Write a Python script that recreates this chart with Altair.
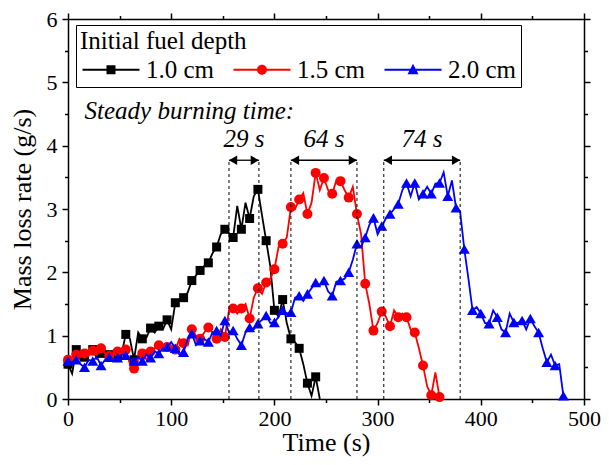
import altair as alt
import pandas as pd

# ---------------- data ----------------
series_names = ["1.0 cm", "1.5 cm", "2.0 cm"]
series_colors = ["#000000", "#ff0000", "#0000ff"]
marker_shapes = ["square", "circle", "triangle-up"]
marker_sizes = [81, 100, 121]

time_10 = list(range(0, 245, 4))
mlr_10 = [0.55, 0.40, 0.78, 0.62, 0.66, 0.70, 0.78, 0.64, 0.72, 0.66,
          0.70, 0.64, 0.68, 0.72, 1.02, 0.95, 0.62, 1.05, 0.95, 0.97,
          1.12, 1.05, 1.15, 1.10, 1.25, 1.10, 1.52, 1.58, 1.60, 1.68,
          1.87, 1.95, 2.03, 2.10, 2.15, 2.30, 2.40, 2.60, 2.68, 2.62,
          2.55, 3.05, 2.68, 3.10, 2.85, 3.20, 3.31, 2.90, 2.50, 2.10,
          1.40, 1.30, 1.57, 1.20, 0.95, 0.90, 0.80, 0.55, 0.25, 0.05,
          0.35, 0.00]

time_15 = list(range(0, 365, 4))
mlr_15 = [0.62, 0.58, 0.70, 0.66, 0.72, 0.68, 0.76, 0.70, 0.80, 0.72,
          0.68, 0.72, 0.75, 0.70, 0.78, 0.55, 0.48, 0.65, 0.72, 0.62,
          0.75, 0.80, 0.85, 0.78, 0.82, 0.80, 0.78, 0.95, 0.88, 0.85,
          1.10, 1.00, 0.95, 1.05, 1.13, 1.05, 0.95, 1.10, 0.98, 1.40,
          1.43, 1.35, 1.43, 1.50, 1.27, 1.60, 1.75, 1.66, 1.84, 1.90,
          2.05, 2.40, 2.45, 2.55, 3.03, 3.00, 3.15, 3.25, 2.92, 3.10,
          3.57, 3.30, 3.49, 3.30, 3.24, 3.45, 3.44, 3.30, 3.18, 3.35,
          2.92, 2.60, 1.82, 1.50, 1.08, 1.20, 1.38, 1.30, 1.15, 1.40,
          1.29, 1.35, 1.29, 1.10, 1.05, 0.80, 0.53, 0.20, 0.06, 0.42,
          0.03, 0.00]

time_20 = list(range(0, 481, 4))
mlr_20 = [0.60, 0.58, 0.62, 0.55, 0.50, 0.62, 0.60, 0.66, 0.53, 0.62,
          0.66, 0.60, 0.65, 0.70, 0.69, 0.62, 0.60, 0.66, 0.60, 0.70,
          0.65, 0.75, 0.72, 0.80, 0.82, 0.90, 0.80, 0.70, 0.74, 0.95,
          1.03, 0.85, 0.92, 0.95, 0.90, 1.05, 1.08, 1.00, 1.24, 1.05,
          1.08, 0.95, 0.85, 1.05, 1.13, 1.10, 1.19, 1.25, 1.32, 1.20,
          1.21, 1.30, 1.40, 1.35, 1.37, 1.60, 1.63, 1.55, 1.66, 1.75,
          1.84, 1.80, 1.87, 1.70, 1.63, 1.85, 1.87, 1.90, 2.00, 2.20,
          2.45, 2.40, 2.55, 2.75, 2.86, 2.60, 2.73, 2.85, 2.92, 3.00,
          3.08, 3.30, 3.41, 3.20, 3.41, 3.15, 3.24, 3.35, 3.24, 3.40,
          3.41, 3.58, 3.20, 3.45, 3.02, 2.95, 2.37, 1.90, 1.40, 1.45,
          1.35, 1.20, 1.19, 1.40, 1.29, 1.10, 1.05, 1.35, 1.21, 1.20,
          1.24, 1.10, 1.27, 1.15, 1.05, 0.80, 0.58, 0.70, 0.53, 0.55,
          0.05]

# steady burning annotation
interval_start = [156, 216, 306]
interval_end = [185, 280, 380]
interval_label = ["29 s", "64 s", "74 s"]
arrow_level = 3.77
label_level = 4.10
steady_text = ["Steady burning time:"]
steady_x = [16]
steady_y = [4.55]

# axis ticks
x_ticks = [0, 50, 100, 150, 200, 250, 300, 350, 400, 450, 500]
y_ticks = [0, 0.5, 1, 1.5, 2, 2.5, 3, 3.5, 4, 4.5, 5, 5.5, 6]

# legend symbols: line segment + marker (custom paths, 10 px per unit)
legend_paths = [
    "M-1,-0.1H4.7V0.1H-1Z M1.4,-0.45H2.3V0.45H1.4Z",
    "M-1,-0.1H4.7V0.1H-1Z M2.35,0A0.5,0.5 0 1,1 1.35,0A0.5,0.5 0 1,1 2.35,0Z",
    "M-1,-0.1H4.7V0.1H-1Z M1.85,-0.6L2.4,0.45L1.3,0.45Z",
]

# ---------------- tables ----------------
rows = []
for name, ts, vs in zip(series_names, [time_10, time_15, time_20], [mlr_10, mlr_15, mlr_20]):
    for i, (t, v) in enumerate(zip(ts, vs)):
        rows.append({"t": t, "v": v, "series": name, "marker": i % 2 == 0})
df = pd.DataFrame(rows)

ann = pd.DataFrame({
    "start": interval_start,
    "end": interval_end,
    "label": interval_label,
    "mid": [(s + e) / 2 for s, e in zip(interval_start, interval_end)],
    "ya": [arrow_level] * 3,
    "yl": [label_level] * 3,
})
bounds = pd.DataFrame({
    "xb": interval_start + interval_end,
    "y0": [0.0] * 6,
    "y1": [arrow_level] * 6,
})
steady = pd.DataFrame({"x": steady_x, "y": steady_y, "text": steady_text})

FONT = "Liberation Serif"
xscale = alt.Scale(domain=[0, 500], nice=False, zero=False)
yscale = alt.Scale(domain=[0, 6], nice=False, zero=False)
cscale = alt.Scale(domain=series_names, range=series_colors)

x_tick_size = {"condition": {"test": "datum.value % 100 === 0", "value": 6}, "value": 3.5}
y_tick_size = {"condition": {"test": "datum.value % 1 === 0", "value": 6}, "value": 3.5}

x_axis_bottom = alt.Axis(orient="bottom", values=x_ticks, title="Time (s)",
                         labelExpr="datum.value % 100 === 0 ? datum.label : ''",
                         tickSize=x_tick_size, labelPadding=3, titlePadding=0,
                         labelFlush=False, labelOverlap=False)
y_axis_left = alt.Axis(orient="left", values=y_ticks, title="Mass loss rate (g/s)",
                       labelExpr="datum.value % 1 === 0 ? format(datum.value, 'd') : ''",
                       tickSize=y_tick_size, labelPadding=5, titlePadding=11,
                       labelFlush=False, labelOverlap=False)
x_axis_top = alt.Axis(orient="top", values=x_ticks, title=None, labels=False,
                      tickSize=x_tick_size)
y_axis_right = alt.Axis(orient="right", values=y_ticks, title=None, labels=False,
                        tickSize=y_tick_size)

legend_cfg = dict(
    title="Initial fuel depth", orient="none", legendX=8, legendY=6,
    direction="horizontal", symbolSize=400, symbolStrokeWidth=0,
    symbolOpacity=1, labelOffset=41, columnPadding=16, padding=4,
    titlePadding=3, strokeColor="black", fillColor="white", cornerRadius=0,
    titleFont=FONT, titleFontSize=25, titleFontWeight="normal",
    titleColor="black", titleAnchor="start",
    labelFont=FONT, labelFontSize=25, labelColor="black",
)

# legend-only layer (no marks drawn, scales carry the legend)
legend_layer = alt.Chart(df).transform_filter("false").mark_point(filled=True, opacity=1).encode(
    x=alt.X("t:Q", scale=xscale, axis=None),
    y=alt.Y("v:Q", scale=yscale, axis=None),
    color=alt.Color("series:N", scale=cscale, legend=alt.Legend(**legend_cfg)),
    shape=alt.Shape("series:N", scale=alt.Scale(domain=series_names, range=legend_paths),
                    legend=alt.Legend(**legend_cfg)),
)

layers = [legend_layer]
for k, (name, col, shp, sz) in enumerate(zip(series_names, series_colors, marker_shapes, marker_sizes)):
    sub = alt.Chart(df).transform_filter(alt.datum.series == name)
    if k == 0:
        xenc = alt.X("t:Q", scale=xscale, axis=x_axis_bottom)
        yenc = alt.Y("v:Q", scale=yscale, axis=y_axis_left)
    else:
        xenc = alt.X("t:Q", scale=xscale, axis=None)
        yenc = alt.Y("v:Q", scale=yscale, axis=None)
    line = sub.mark_line(strokeWidth=1.8, color=col).encode(x=xenc, y=yenc)
    pts = sub.transform_filter(alt.datum.marker).mark_point(
        filled=True, opacity=1, color=col, shape=shp, size=sz
    ).encode(
        x=alt.X("t:Q", scale=xscale, axis=None),
        y=alt.Y("v:Q", scale=yscale, axis=None),
    )
    layers += [line, pts]

dashed = alt.Chart(bounds).mark_rule(color="black", strokeWidth=1, strokeDash=[3, 3]).encode(
    x=alt.X("xb:Q", scale=xscale, axis=x_axis_top),
    y=alt.Y("y0:Q", scale=yscale, axis=y_axis_right),
    y2="y1:Q",
)

arrows = alt.Chart(ann).mark_rule(color="black", strokeWidth=1.3).encode(
    x=alt.X("start:Q", scale=xscale, axis=None),
    x2="end:Q",
    y=alt.Y("ya:Q", scale=yscale, axis=None),
)
head_left = alt.Chart(ann).mark_point(shape="triangle-left", filled=True, color="black",
                                      opacity=1, size=90, xOffset=4.1).encode(
    x=alt.X("start:Q", scale=xscale, axis=None),
    y=alt.Y("ya:Q", scale=yscale, axis=None),
)
head_right = alt.Chart(ann).mark_point(shape="triangle-right", filled=True, color="black",
                                       opacity=1, size=90, xOffset=-4.1).encode(
    x=alt.X("end:Q", scale=xscale, axis=None),
    y=alt.Y("ya:Q", scale=yscale, axis=None),
)
interval_text = alt.Chart(ann).mark_text(font=FONT, fontSize=25, fontStyle="italic",
                                         color="black", align="center",
                                         baseline="middle").encode(
    x=alt.X("mid:Q", scale=xscale, axis=None),
    y=alt.Y("yl:Q", scale=yscale, axis=None),
    text="label:N",
)
steady_label = alt.Chart(steady).mark_text(font=FONT, fontSize=25, fontStyle="italic",
                                           color="black", align="left",
                                           baseline="middle").encode(
    x=alt.X("x:Q", scale=xscale, axis=None),
    y=alt.Y("y:Q", scale=yscale, axis=None),
    text="text:N",
)

chart = alt.layer(
    *layers, dashed, arrows, head_left, head_right, interval_text, steady_label
).resolve_axis(
    x="independent", y="independent"
).properties(
    width=516, height=380,
    autosize=alt.AutoSizeParams(type="none"),
    padding={"left": 60, "top": 11, "right": 17, "bottom": 58},
).configure_view(
    stroke=None
).configure_axis(
    domainColor="black", domainWidth=1.5, tickColor="black", tickWidth=1.5,
    labelFont=FONT, labelFontSize=22, labelColor="black",
    titleFont=FONT, titleFontSize=26, titleFontWeight="normal", titleColor="black",
    grid=False,
)

chart.save("out.html", embed_options={"renderer": "svg", "actions": False})
